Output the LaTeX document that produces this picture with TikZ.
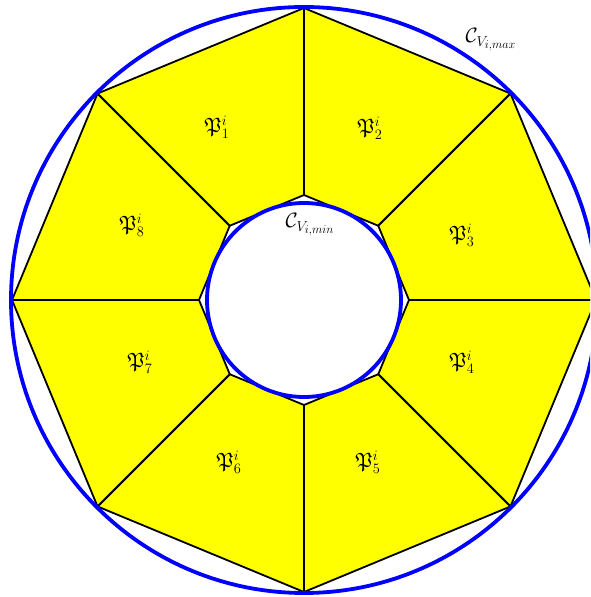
\documentclass[tikz,border=0pt]{standalone}
\usepackage{amssymb}
\usetikzlibrary{calc}
\definecolor{yel}{RGB}{255,255,0}
\definecolor{blu}{RGB}{0,0,255}
\begin{document}
\begin{tikzpicture}[x=1pt,y=1pt,
  sector/.style={fill=yel,draw=black,line width=1.8pt,line join=miter},
  bluecirc/.style={draw=blu,line width=3.8pt},
  lab/.style={font=\huge,inner sep=0pt}]
\useasboundingbox (0,0) rectangle (590,597);
\begin{scope}
\clip (0,0) rectangle (590,597);
\coordinate (c) at (304,297);
\foreach \k in {0,...,7}{
  \coordinate (o\k) at ($(c)+({90-45*\k}:292)$);
  \coordinate (i\k) at ($(c)+({90-45*\k}:105)$);
}
\foreach \k [evaluate=\k as \n using {int(mod(\k+1,8))}] in {0,...,7}{
  \draw[sector] (i\k) -- (o\k) -- (o\n) -- (i\n) -- cycle;
}
\draw[bluecirc] (c) circle (293);
\draw[bluecirc] (c) circle (97);
\end{scope}
\node[lab] (p1) at (217,470) {$\mathfrak{P}^i_1$};
\node[lab] (p2) at (370,469) {$\mathfrak{P}^i_2$};
\node[lab] (p3) at (462,362) {$\mathfrak{P}^i_3$};
\node[lab] (p4) at (462,235) {$\mathfrak{P}^i_4$};
\node[lab] (p5) at (368,135) {$\mathfrak{P}^i_5$};
\node[lab] (p6) at (229,135) {$\mathfrak{P}^i_6$};
\node[lab] (p7) at (140,235) {$\mathfrak{P}^i_7$};
\node[lab] (p8) at (132,372) {$\mathfrak{P}^i_8$};
\node[lab] (cmax) at (491,557) {$\mathcal{C}_{V_{i,max}}$};
\node[lab] (cmin) at (310,372) {$\mathcal{C}_{V_{i,min}}$};
\end{tikzpicture}
\end{document}
